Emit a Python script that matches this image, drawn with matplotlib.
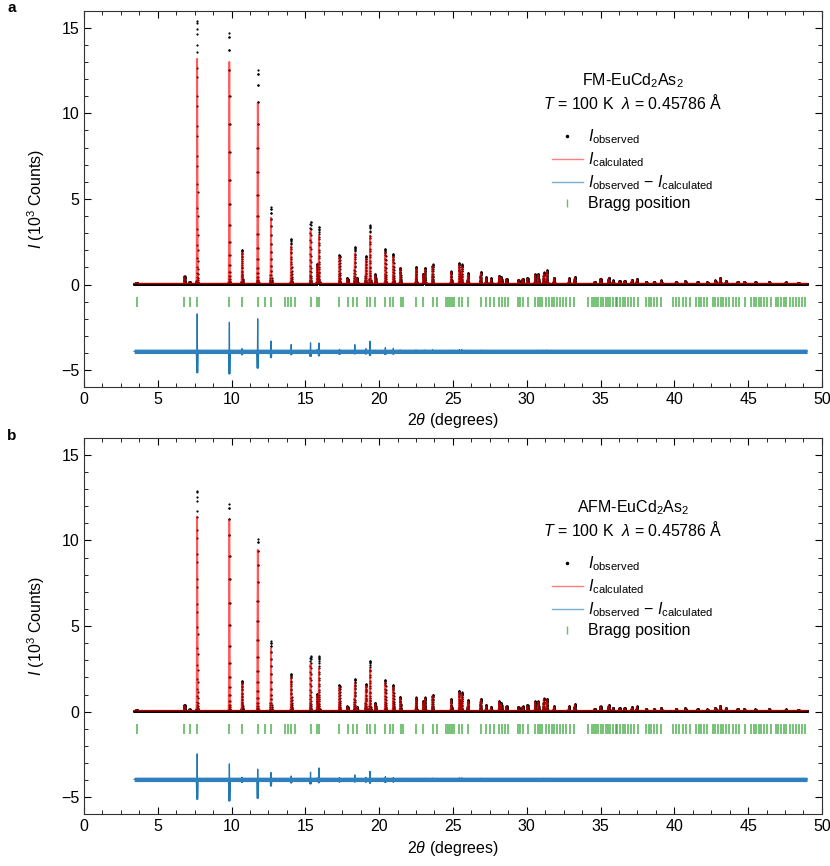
import numpy as np
import matplotlib
matplotlib.use("Agg")
import matplotlib.pyplot as plt
from matplotlib.lines import Line2D
from matplotlib.ticker import MultipleLocator

plt.rcParams['font.family'] = ['Liberation Sans', 'DejaVu Sans']
plt.rcParams['mathtext.fontset'] = 'custom'
plt.rcParams['mathtext.rm'] = 'Liberation Sans'
plt.rcParams['mathtext.it'] = 'Liberation Sans:italic'
plt.rcParams['mathtext.bf'] = 'Liberation Sans:bold'

# reflections (2theta in degrees, intensities in 10^3 counts)
peak_pos = [3.56, 6.81, 7.15, 7.67, 9.85, 10.71, 11.77, 12.67, 14.04, 15.35,
            15.80, 15.92, 17.31, 17.85, 18.35, 18.50, 19.10, 19.38, 19.74, 20.42,
            20.96, 21.43, 22.50, 22.99, 23.10, 23.62, 24.88, 25.43, 25.60, 26.01,
            26.88, 27.24, 27.58, 28.13, 28.28, 28.63, 29.44, 29.72, 30.05, 30.57,
            30.78, 31.15, 31.37, 31.84, 32.86, 33.25, 34.60, 35.00, 35.55, 35.84,
            36.29, 36.63, 37.12, 37.46, 38.09, 38.63, 39.11, 40.12, 40.75, 41.58,
            42.24, 42.78, 43.10, 43.50, 44.29, 44.74, 45.50, 46.43, 47.56, 48.40]
obs_a = [0.04, 0.42, 0.09, 15.35, 14.65, 1.98, 12.45, 4.45, 2.60, 3.60,
         1.15, 3.31, 1.69, 0.32, 2.14, 0.32, 1.61, 3.41, 0.54, 2.02,
         1.75, 0.93, 0.97, 0.57, 0.91, 1.12, 0.71, 1.20, 1.12, 0.61,
         0.67, 0.37, 0.30, 0.47, 0.38, 0.27, 0.20, 0.28, 0.31, 0.54,
         0.56, 0.65, 0.77, 0.35, 0.31, 0.38, 0.11, 0.28, 0.34, 0.18,
         0.15, 0.15, 0.21, 0.28, 0.11, 0.09, 0.18, 0.11, 0.15, 0.09,
         0.07, 0.18, 0.34, 0.15, 0.11, 0.11, 0.07, 0.11, 0.07, 0.05]
calc_a = [0.04, 0.37, 0.08, 13.15, 12.95, 1.82, 10.55, 3.85, 2.20, 3.10,
          1.05, 2.82, 1.57, 0.29, 1.75, 0.29, 1.45, 2.82, 0.48, 1.80,
          1.57, 0.85, 0.89, 0.52, 0.83, 1.03, 0.65, 1.10, 1.02, 0.56,
          0.61, 0.34, 0.27, 0.43, 0.35, 0.25, 0.18, 0.26, 0.28, 0.50,
          0.51, 0.59, 0.70, 0.32, 0.28, 0.35, 0.10, 0.25, 0.31, 0.16,
          0.14, 0.14, 0.19, 0.25, 0.10, 0.08, 0.16, 0.10, 0.14, 0.08,
          0.06, 0.16, 0.31, 0.14, 0.10, 0.10, 0.06, 0.10, 0.06, 0.05]
obs_b = [0.04, 0.33, 0.07, 12.85, 12.05, 1.75, 10.00, 4.05, 2.15, 3.17,
         0.99, 3.17, 1.51, 0.25, 1.86, 0.20, 1.57, 2.92, 0.44, 1.81,
         1.51, 0.79, 0.77, 0.55, 0.77, 0.94, 0.68, 1.16, 1.07, 0.62,
         0.71, 0.32, 0.20, 0.55, 0.45, 0.25, 0.20, 0.25, 0.32, 0.55,
         0.55, 0.71, 0.71, 0.25, 0.25, 0.38, 0.11, 0.25, 0.32, 0.18,
         0.15, 0.15, 0.20, 0.25, 0.11, 0.09, 0.17, 0.11, 0.14, 0.09,
         0.07, 0.17, 0.30, 0.14, 0.11, 0.10, 0.07, 0.10, 0.07, 0.05]
calc_b = [0.04, 0.29, 0.06, 11.35, 11.15, 1.62, 9.40, 3.65, 1.95, 2.75,
          0.90, 2.50, 1.40, 0.23, 1.60, 0.19, 1.45, 2.45, 0.40, 1.65,
          1.40, 0.73, 0.72, 0.50, 0.71, 0.87, 0.63, 1.07, 0.98, 0.57,
          0.65, 0.29, 0.18, 0.50, 0.41, 0.23, 0.18, 0.23, 0.29, 0.51,
          0.51, 0.65, 0.65, 0.23, 0.23, 0.35, 0.10, 0.23, 0.29, 0.16,
          0.14, 0.14, 0.18, 0.23, 0.10, 0.08, 0.15, 0.10, 0.13, 0.08,
          0.06, 0.15, 0.27, 0.13, 0.10, 0.09, 0.06, 0.09, 0.06, 0.05]

bragg_pos = [3.56, 6.81, 7.15, 7.67, 9.85, 10.71, 11.77, 12.29, 12.67, 13.62,
             13.79, 14.02, 14.27, 15.35, 15.80, 15.92, 17.31, 17.90, 18.21, 18.48,
             19.16, 19.38, 19.74, 20.42, 20.74, 20.96, 21.46, 21.64, 22.50, 22.99,
             23.67, 23.89, 24.52, 24.66, 24.79, 24.93, 25.06, 25.43, 25.61, 26.01,
             26.87, 27.23, 27.50, 27.77, 28.13, 28.31, 28.54, 28.76, 29.44, 29.57,
             29.75, 30.07, 30.56, 30.74, 30.88, 31.06, 31.33, 31.51, 31.69, 31.87,
             32.05, 32.23, 32.46, 32.64, 32.91, 33.22, 34.13, 34.40, 34.53, 34.67,
             34.85, 35.03, 35.16, 35.34, 35.48, 35.66, 35.84, 36.02, 36.15, 36.33,
             36.51, 36.69, 36.87, 37.06, 37.24, 37.51, 38.09, 38.27, 38.45, 38.63,
             38.81, 39.13, 39.89, 40.12, 40.35, 40.57, 40.80, 41.07, 41.47, 41.65,
             41.83, 42.01, 42.24, 42.65, 42.78, 42.96, 43.14, 43.32, 43.50, 43.73,
             43.95, 44.18, 44.40, 44.76, 45.21, 45.39, 45.53, 45.71, 45.89, 46.07,
             46.25, 46.52, 46.88, 47.06, 47.24, 47.42, 47.60, 47.83, 48.05, 48.23,
             48.46, 48.68, 48.86]

two_theta_start, two_theta_end, step = 3.4, 49.0, 0.003
background = 0.06
sigma_calc = 0.019
sigma_obs = 0.0158
bragg_level = -1.0
diff_band = 0.13

two_theta = np.arange(two_theta_start, two_theta_end, step)


def profile(x, heights, width):
    y = np.full_like(x, background)
    for p, h in zip(peak_pos, heights):
        y += h * np.exp(-0.5 * ((x - p) / width) ** 2)
    return y


def draw_panel(ax, obs_h, calc_h, diff_offset, phase):
    y_obs = profile(two_theta, obs_h, sigma_obs)
    y_calc = profile(two_theta, calc_h, sigma_calc)
    y_diff = y_obs - y_calc + diff_offset

    ax.plot(two_theta, y_obs, '.', color='k', ms=3.2, mew=0, zorder=2)
    ax.plot(two_theta, y_calc, '-', color='red', alpha=0.65, lw=1.2, zorder=3)
    ax.plot(two_theta, y_diff, '-', color='#1f77b4', lw=0.9, zorder=1)
    ax.fill_between(two_theta, diff_offset - diff_band, diff_offset + diff_band,
                    color='#2f80bd', lw=0, zorder=2)
    ax.plot(bragg_pos, np.full(len(bragg_pos), bragg_level), '|',
            color='#2ca02c', alpha=0.75, ms=6.5, mew=1.2, zorder=2)

    ax.set_xlim(0, 50)
    ax.set_ylim(-6, 16)
    ax.xaxis.set_major_locator(MultipleLocator(5))
    ax.xaxis.set_minor_locator(MultipleLocator(1.25))
    ax.yaxis.set_major_locator(MultipleLocator(5))
    ax.yaxis.set_minor_locator(MultipleLocator(1))
    ax.tick_params(which='both', direction='in', top=True, right=True, labelsize=11.5)
    ax.tick_params(which='major', length=5)
    ax.tick_params(which='minor', length=3)
    for s in ax.spines.values():
        s.set_color('#333333')
    ax.set_xlabel(r'2$\theta$ (degrees)', fontsize=11.5, labelpad=3)
    ax.set_ylabel(r'$I$ (10$^3$ Counts)', fontsize=11.5, labelpad=10)

    ax.text(0.744, 0.814, phase + r'-EuCd$_2$As$_2$', transform=ax.transAxes,
            ha='center', va='center', fontsize=11.5)
    ax.text(0.744, 0.756, r'$T$ = 100 K  $\lambda$ = 0.45786 Å', transform=ax.transAxes,
            ha='center', va='center', fontsize=11.5)

    handles = [Line2D([], [], ls='none', marker='.', color='k', ms=3),
               Line2D([], [], color='red', alpha=0.5, lw=1),
               Line2D([], [], color='#1f77b4', alpha=0.6, lw=1),
               Line2D([], [], ls='none', marker='|', color='#2ca02c', alpha=0.7, ms=6)]
    labels = [r'$I_{\mathrm{observed}}$', r'$I_{\mathrm{calculated}}$',
              r'$I_{\mathrm{observed}}$ $-$ $I_{\mathrm{calculated}}$', 'Bragg position']
    ax.legend(handles, labels, loc='upper left', bbox_to_anchor=(0.634, 0.69),
              frameon=False, fontsize=11.5, borderpad=0, borderaxespad=0,
              handlelength=1.95, handletextpad=0.3, labelspacing=0.27, numpoints=1)


fig = plt.figure(figsize=(8.3, 8.66), dpi=100)
ax_a = fig.add_axes([0.1012, 0.5528, 0.889, 0.4349])
ax_b = fig.add_axes([0.1012, 0.0595, 0.889, 0.4352])

draw_panel(ax_a, obs_a, calc_a, -3.9, 'FM')
draw_panel(ax_b, obs_b, calc_b, -3.95, 'AFM')

fig.text(12 / 830, 1 - 8 / 866, 'a', fontsize=11, weight='bold', ha='center', va='center')
fig.text(12 / 830, 1 - 436 / 866, 'b', fontsize=11, weight='bold', ha='center', va='center')

fig.savefig('out.png', dpi=100)
